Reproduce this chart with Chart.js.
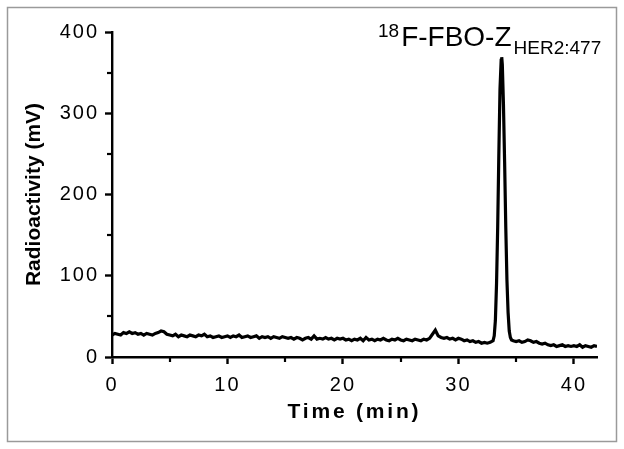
<!DOCTYPE html>
<html><head><meta charset="utf-8">
<script src="https://cdn.jsdelivr.net/npm/chart.js@4/dist/chart.umd.min.js"></script>
<style>html,body{margin:0;padding:0;background:#fff;overflow:hidden}#wrap{position:relative;width:624px;height:449px}canvas{display:block}</style>
</head><body><div id="wrap"><canvas id="c" width="624" height="449"></canvas></div>
<script>
const timeMin = [
  0,0.25,0.5,0.75,1,1.25,1.5,1.75,2,2.25,2.5,2.75,3,3.25,3.5,3.75,4,4.25,4.5,4.75,5,
  5.25,5.5,5.75,6,6.25,6.5,6.75,7,7.25,7.5,7.75,8,8.25,8.5,8.75,9,9.25,9.5,9.75,10,
  10.25,10.5,10.75,11,11.25,11.5,11.75,12,12.25,12.5,12.75,13,13.25,13.5,13.75,14,14.25,14.5,14.75,15,
  15.25,15.5,15.75,16,16.25,16.5,16.75,17,17.25,17.5,17.75,18,18.25,18.5,18.75,19,19.25,19.5,19.75,20,
  20.25,20.5,20.75,21,21.25,21.5,21.75,22,22.25,22.5,22.75,23,23.25,23.5,23.75,24,24.25,24.5,24.75,25,
  25.25,25.5,25.75,26,26.25,26.5,26.75,27,27.25,27.5,27.75,28,28.25,28.5,28.75,29,29.25,29.5,29.75,30,
  30.25,30.5,30.75,31,31.25,31.5,31.75,32,32.25,32.5,32.75,33,
  33.1,33.2,33.3,33.4,33.5,33.6,33.7,33.75,33.8,33.9,34.0,34.1,34.2,34.3,34.4,34.5,34.6,34.75,35,
  35.25,35.5,35.75,36,36.25,36.5,36.75,37,37.25,37.5,37.75,38,38.25,38.5,38.75,39,39.25,39.5,39.75,40,
  40.25,40.5,40.75,41,41.25,41.5,41.75,42
];
const signalMv = [
  27,29,28,27,30,29,31,29,30,28,29,27,29,28,27,29,30,32,31,28,27,
  26,28,25,27,26,25,27,26,25,27,26,28,25,26,24,25,26,24,25,26,
  24,26,25,27,24,25,26,24,25,26,23,25,24,25,23,25,24,23,25,24,
  23,24,22,24,23,21,23,24,22,26,22,23,22,24,22,23,21,23,22,23,
  21,22,20,22,21,23,20,24,21,22,20,22,21,23,21,20,22,21,23,21,
  20,22,21,20,22,21,20,22,21,23,28,33,26,24,23,24,22,23,21,23,
  22,20,21,19,20,18,19,17,18,17,18,20,
  26,45,90,160,250,330,365,369,360,310,240,160,95,55,32,24,21,20,19,
  20,18,19,21,20,18,19,17,16,17,15,14,15,13,14,15,13,14,13,14,
  13,15,12,14,13,12,14,13
];
const xTicks = [0, 10, 20, 30, 40];
const yTicks = [0, 100, 200, 300, 400];
const xMinorTicks = [5, 15, 25, 35];
const yMinorTicks = [50, 150, 250, 350];
const xTitle = 'Time (min)';
const yTitle = 'Radioactivity (mV)';
const peakSup = '18';
const peakMain = 'F-FBO-Z';
const peakSub = 'HER2:477';

const FAMILY = '"Liberation Sans", Arial, sans-serif';
const canvas = document.getElementById('c');
const ctx2 = canvas.getContext('2d');
let spacingOff = false;
const origFill = ctx2.fillText;
ctx2.fillText = function (t, x, y, mw) {
  const prev = this.letterSpacing;
  if (!spacingOff) {
    const s = String(t);
    if (s === xTitle) this.letterSpacing = '2.8px';
    else if (/^\d+$/.test(s)) this.letterSpacing = '2px';
  }
  if (mw === undefined) origFill.call(this, t, x, y); else origFill.call(this, t, x, y, mw);
  this.letterSpacing = prev;
};

const decor = {
  id: 'decor',
  beforeDraw(chart) {
    const c = chart.ctx;
    c.save();
    c.fillStyle = '#fff';
    c.fillRect(0, 0, chart.width, chart.height);
    c.strokeStyle = '#9a9a9a';
    c.lineWidth = 1.5;
    c.strokeRect(7.5, 7.5, 609, 434);
    c.restore();
  },
  afterDraw(chart) {
    const c = chart.ctx, x = chart.scales.x, y = chart.scales.y;
    c.save();
    c.strokeStyle = '#000';
    c.lineWidth = 2.2;
    xMinorTicks.forEach(v => {
      const px = Math.round(x.getPixelForValue(v));
      c.beginPath(); c.moveTo(px, y.bottom); c.lineTo(px, y.bottom + 5); c.stroke();
    });
    yMinorTicks.forEach(v => {
      const py = Math.round(y.getPixelForValue(v));
      c.beginPath(); c.moveTo(x.left, py); c.lineTo(x.left - 5, py); c.stroke();
    });
    spacingOff = true;
    c.fillStyle = '#000';
    c.textAlign = 'left';
    c.textBaseline = 'alphabetic';
    c.font = '19px ' + FAMILY;
    c.fillText(peakSup, 378, 37);
    const w1 = c.measureText(peakSup).width;
    c.font = '28px ' + FAMILY;
    c.fillText(peakMain, 378 + w1 + 2, 46);
    const w2 = c.measureText(peakMain).width;
    c.font = '19px ' + FAMILY;
    c.fillText(peakSub, 378 + w1 + 2 + w2 + 2, 54);
    spacingOff = false;
    c.restore();
  }
};

new Chart(canvas, {
  type: 'line',
  data: {
    datasets: [{
      data: timeMin.map((t, i) => ({ x: t, y: signalMv[i] })),
      borderColor: '#000',
      borderWidth: 3.2,
      pointRadius: 0,
      tension: 0,
      fill: false
    }]
  },
  options: {
    responsive: false,
    animation: false,
    devicePixelRatio: 1,
    layout: { padding: { left: 0, top: 32, right: 27, bottom: 0 } },
    plugins: { legend: { display: false }, tooltip: { enabled: false } },
    scales: {
      x: {
        type: 'linear', min: 0, max: 42,
        afterFit(s) { s.height = 92; },
        afterBuildTicks(s) { s.ticks = xTicks.map(v => ({ value: v })); },
        border: { display: true, color: '#000', width: 2.4 },
        grid: { drawOnChartArea: false, drawTicks: true, tickLength: 7, tickWidth: 2.4, tickColor: '#000' },
        ticks: { color: '#000', font: { family: FAMILY, size: 20 }, padding: 9, maxRotation: 0, autoSkip: false },
        title: { display: true, text: xTitle, color: '#000', font: { family: FAMILY, size: 21, weight: 'bold' }, padding: { top: 0, bottom: 24 } }
      },
      y: {
        type: 'linear', min: 0, max: 400,
        afterFit(s) { s.width = 112; },
        afterBuildTicks(s) { s.ticks = yTicks.map(v => ({ value: v })); },
        border: { display: true, color: '#000', width: 2.4 },
        grid: { drawOnChartArea: false, drawTicks: true, tickLength: 7, tickWidth: 2.4, tickColor: '#000' },
        ticks: { color: '#000', font: { family: FAMILY, size: 20 }, padding: 6 },
        title: { display: true, text: yTitle, color: '#000', font: { family: FAMILY, size: 21, weight: 'bold' }, padding: { top: 22, bottom: 0 } }
      }
    }
  },
  plugins: [decor]
});
</script>
</body></html>
